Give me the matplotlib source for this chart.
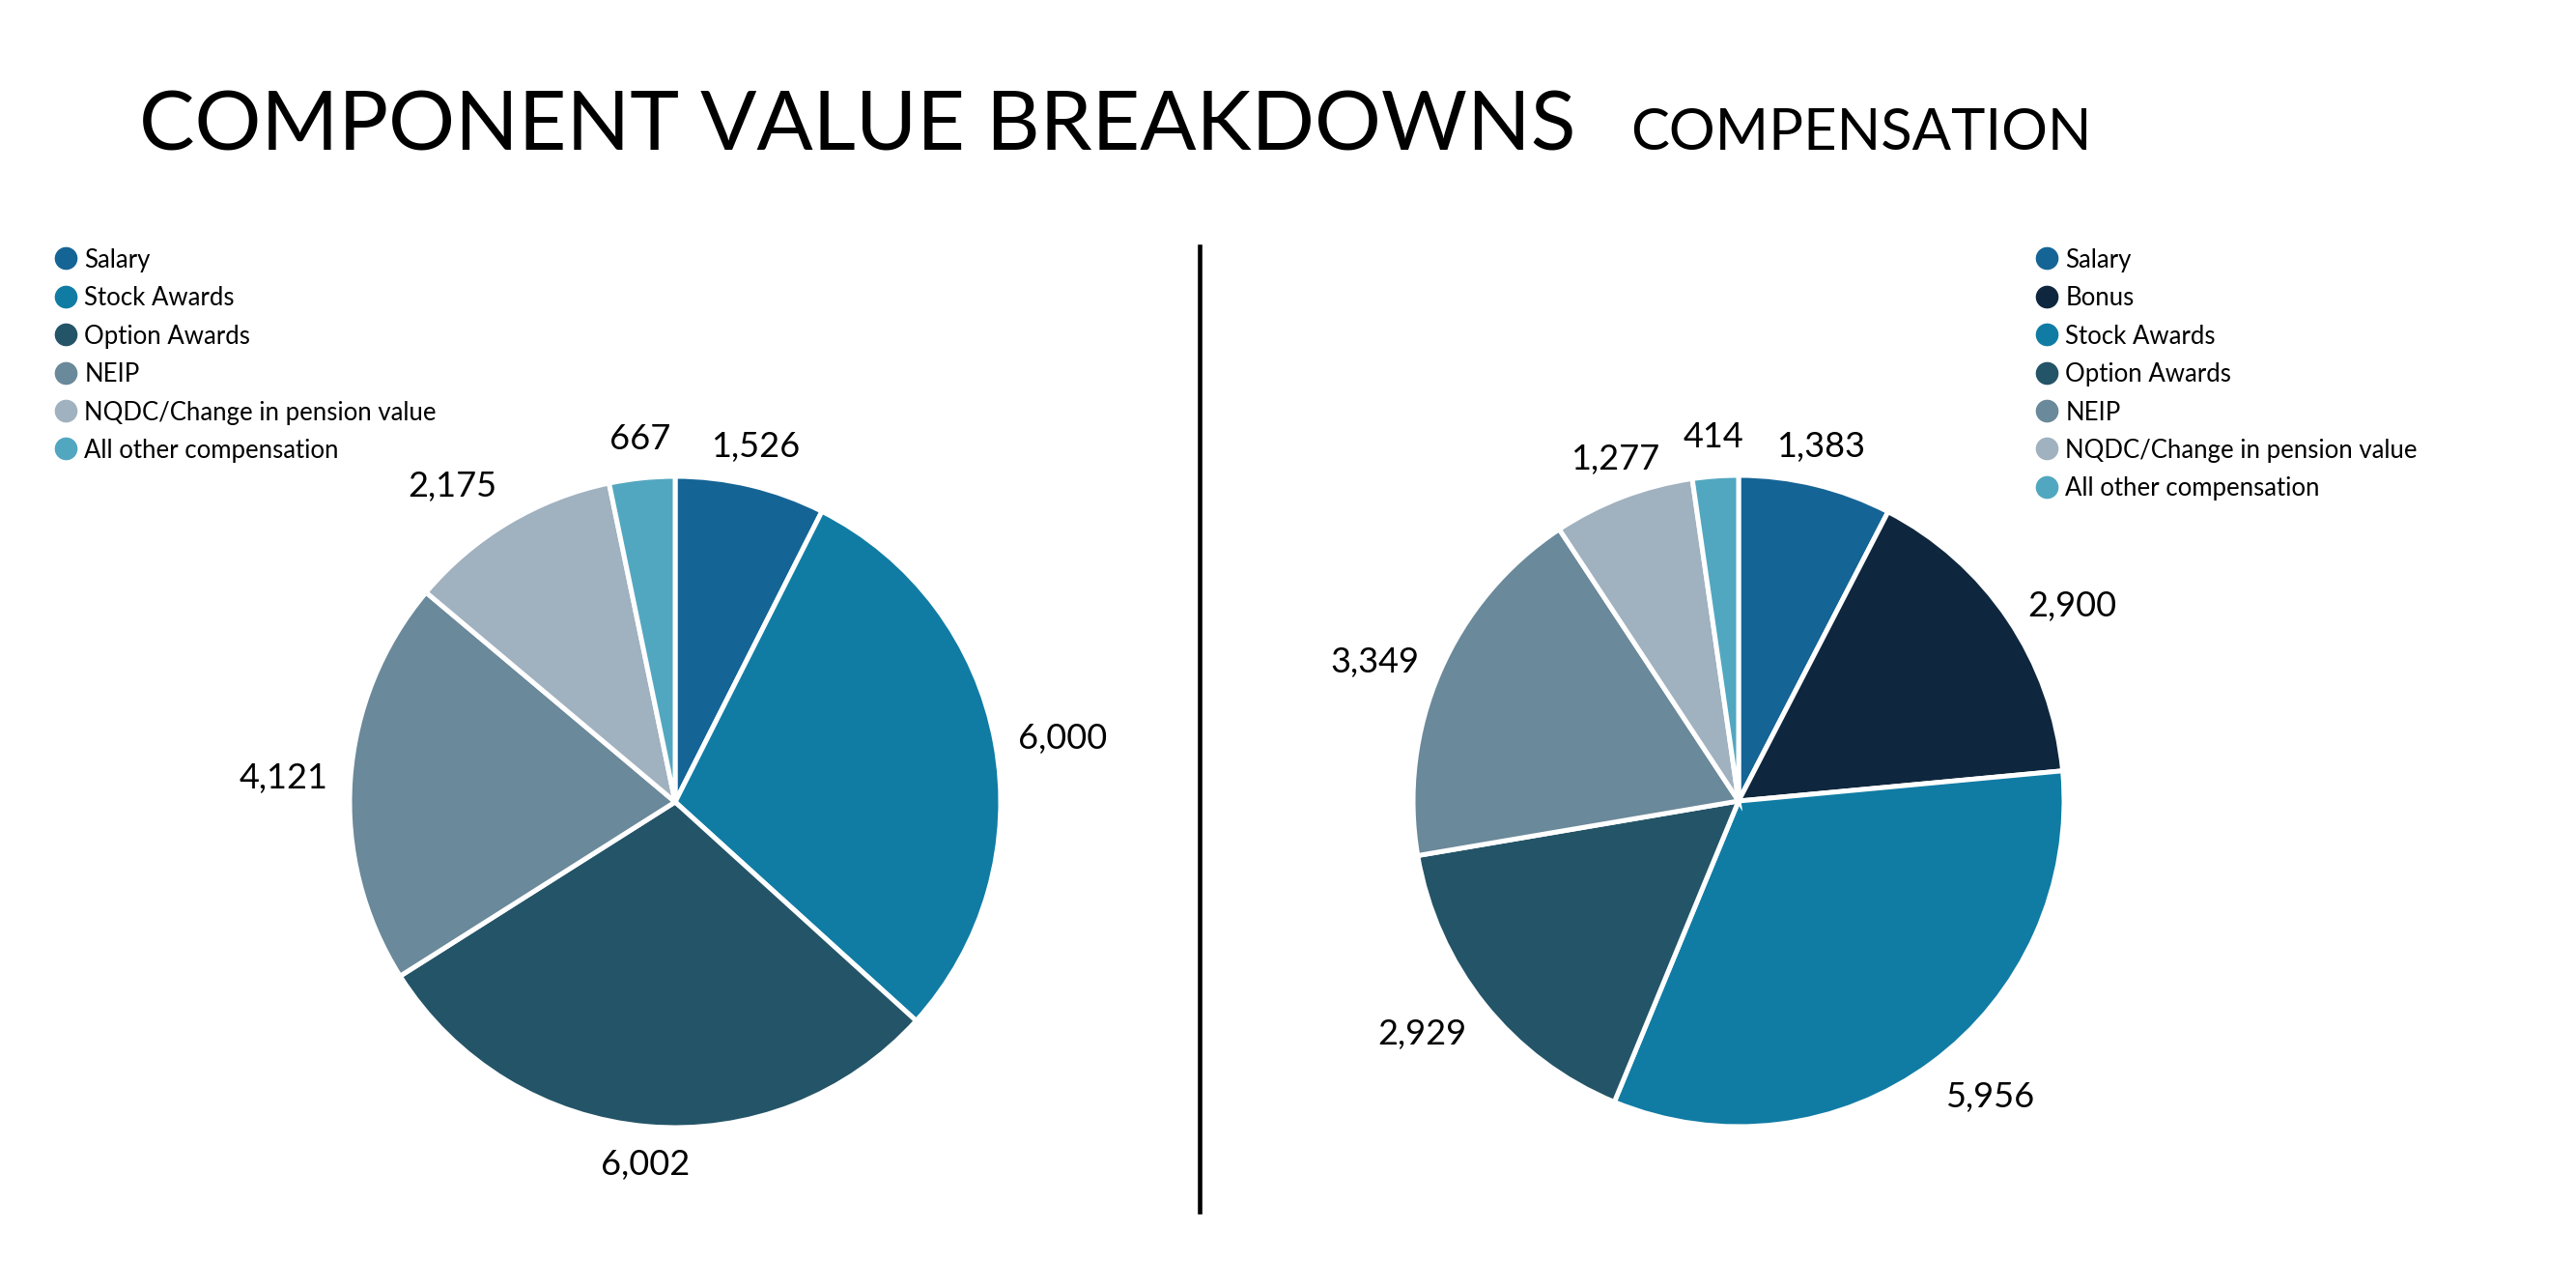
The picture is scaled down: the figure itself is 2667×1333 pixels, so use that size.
import numpy as np
import matplotlib
matplotlib.use("Agg")
import matplotlib.pyplot as plt
from matplotlib.lines import Line2D

plt.rcParams['font.family'] = ['Lato', 'DejaVu Sans']

# ---- data ----
left_categories = ["Salary", "Stock Awards", "Option Awards", "NEIP",
                   "NQDC/Change in pension value", "All other compensation"]
left_values = [1526, 6000, 6002, 4121, 2175, 667]

right_categories = ["Salary", "Bonus", "Stock Awards", "Option Awards", "NEIP",
                    "NQDC/Change in pension value", "All other compensation"]
right_values = [1383, 2900, 5956, 2929, 3349, 1277, 414]

palette = {
    "Salary": "#156496",
    "Bonus": "#0F273E",
    "Stock Awards": "#107CA4",
    "Option Awards": "#245467",
    "NEIP": "#6A899A",
    "NQDC/Change in pension value": "#A0B1BF",
    "All other compensation": "#52A7C0",
}

title_text = "COMPONENT VALUE BREAKDOWNS"
subtitle_text = "COMPENSATION"

W, H = 2667, 1333
fig = plt.figure(figsize=(W / 100, H / 100), dpi=100)
fig.patch.set_facecolor("white")

R_PX = 337
L = 1.5
AX_PX = 2 * L * R_PX


def pie_axes(cx, cy):
    left = (cx - AX_PX / 2) / W
    bottom = (H - cy - AX_PX / 2) / H
    ax = fig.add_axes([left, bottom, AX_PX / W, AX_PX / H])
    return ax


def draw_pie(ax, cats, vals):
    cols = [palette[c] for c in cats]
    wedges, _ = ax.pie(vals, colors=cols, startangle=90, counterclock=False,
                       radius=1.0,
                       wedgeprops=dict(edgecolor="white", linewidth=3.6))
    ax.set_xlim(-L, L)
    ax.set_ylim(-L, L)
    ax.set_aspect("equal")
    ax.axis("off")
    for w, v in zip(wedges, vals):
        ang = np.deg2rad((w.theta1 + w.theta2) / 2)
        x, y = np.cos(ang), np.sin(ang)
        r = 1.07
        ha = "left" if x > 0.45 else ("right" if x < -0.45 else "center")
        va = "bottom" if y > 0.6 else ("top" if y < -0.6 else "center")
        ax.text(r * x, r * y, f"{v:,}", ha=ha, va=va, fontsize=26,
                color="black")
    return wedges


ax1 = pie_axes(699, 830)
draw_pie(ax1, left_categories, left_values)
ax2 = pie_axes(1800, 829)
draw_pie(ax2, right_categories, right_values)


def legend(cats, x_left_px, top_px):
    handles = [Line2D([0], [0], marker="o", linestyle="none", markersize=16,
                      markerfacecolor=palette[c], markeredgecolor=palette[c])
               for c in cats]
    fig.legend(handles, cats, loc="upper left",
               bbox_to_anchor=(x_left_px / W, 1 - top_px / H),
               frameon=False, fontsize=18.5, handlelength=0.85,
               handletextpad=0.33, labelspacing=0.56, borderpad=0,
               borderaxespad=0, handleheight=0.85)


legend(left_categories, 57, 257)
legend(right_categories, 2108, 257)

# title
fig.text(144 / W, 1 - 155 / H, title_text, fontsize=62, ha="left",
         va="baseline", color="black")
fig.text(1688 / W, 1 - 155 / H, subtitle_text, fontsize=43, ha="left",
         va="baseline", color="black")

# divider
fig.add_artist(Line2D([1242 / W, 1242 / W], [1 - 255 / H, 1 - 1254 / H],
                      transform=fig.transFigure, color="black", linewidth=3.3))

fig.savefig("out.png", dpi=100, facecolor="white")
